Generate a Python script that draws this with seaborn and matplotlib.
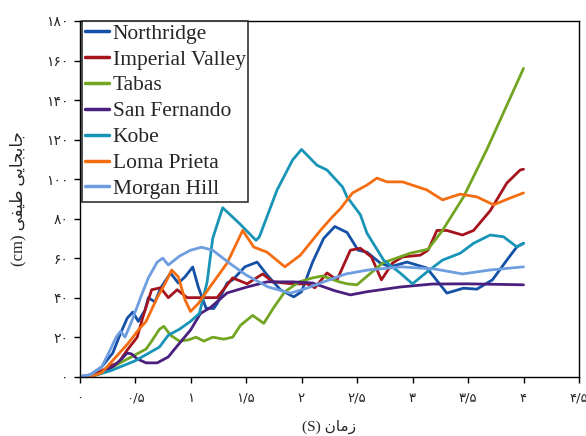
import numpy as np
import pandas as pd
import matplotlib
matplotlib.use("Agg")
import matplotlib.pyplot as plt
import seaborn as sns

# Spectral displacement time histories (time in s, displacement in cm)
northridge_t = [0, 0.1, 0.2, 0.3, 0.37, 0.43, 0.48, 0.53, 0.59, 0.62, 0.68, 0.73, 0.82, 0.89, 0.95,
                1.02, 1.07, 1.14, 1.21, 1.24, 1.33, 1.38, 1.49, 1.6, 1.69, 1.81, 1.93, 2.0, 2.1, 2.2,
                2.3, 2.41, 2.51, 2.59, 2.71, 2.8, 2.95, 3.13, 3.31, 3.46, 3.58, 3.72, 3.85, 3.94, 4.0]
northridge_d = [0, 1, 5, 12, 22, 29.6, 32.7, 28, 33.7, 40, 37.8, 44.8, 52.4, 47.4, 50.5,
                55.5, 45.4, 34.7, 34.5, 37, 47.4, 49, 55.6, 58, 51.5, 44, 40.4, 43, 58, 70,
                76, 73, 64, 63, 57.5, 55.6, 58, 55, 42.3, 44.8, 44.3, 49, 59, 65.7, 67.5]

imperial_t = [0, 0.1, 0.2, 0.3, 0.35, 0.43, 0.52, 0.57, 0.65, 0.73, 0.8, 0.88, 0.97, 1.09, 1.24,
              1.38, 1.51, 1.65, 1.74, 1.92, 2.05, 2.12, 2.23, 2.32, 2.44, 2.53, 2.63, 2.72, 2.82,
              2.91, 3.07, 3.14, 3.22, 3.31, 3.45, 3.55, 3.7, 3.85, 3.97, 4.0]
imperial_d = [0, 0, 3, 6, 7, 13.5, 20, 30, 44, 45, 40, 44, 40, 40, 40,
              50, 47, 52, 48, 47, 47, 45, 52.5, 49, 64, 65, 60.6, 49, 57.5,
              60.6, 61.5, 64, 74, 74, 71.7, 74, 84, 98, 104.6, 105]

tabas_t = [0, 0.1, 0.2, 0.3, 0.4, 0.5, 0.6, 0.65, 0.72, 0.76, 0.82, 0.9, 0.98, 1.05, 1.12, 1.2,
           1.3, 1.38, 1.45, 1.56, 1.66, 1.75, 1.85, 1.98, 2.1, 2.19, 2.34, 2.41, 2.5, 2.73, 2.98,
           3.14, 3.27, 3.46, 3.67, 4.0]
tabas_d = [0, 0, 2, 5, 8, 11, 14, 18, 24, 25.5, 21, 18, 18.6, 20, 18, 20,
           19, 20, 26, 31, 27, 35, 43, 48, 50, 51, 48, 47, 46.5, 57.5, 62.5,
           64.5, 74, 91, 115, 156]

sanfernando_t = [0, 0.1, 0.2, 0.3, 0.38, 0.43, 0.47, 0.52, 0.6, 0.7, 0.8, 0.85, 1.0, 1.09, 1.18,
                 1.33, 1.51, 1.69, 1.92, 2.1, 2.3, 2.44, 2.59, 2.89, 3.18, 3.49, 4.0]
sanfernando_d = [0, 0, 2, 5, 9, 12, 11.5, 9, 7, 7, 10, 13.5, 23.6, 32, 35,
                 42.4, 45.4, 48, 48, 47.4, 43.5, 41.4, 43, 45.4, 46.9, 47, 46.5]

kobe_t = [0, 0.1, 0.28, 0.5, 0.72, 0.8, 0.9, 1.0, 1.08, 1.15, 1.2, 1.29, 1.44, 1.59, 1.62, 1.78,
          1.92, 2.0, 2.14, 2.23, 2.37, 2.41, 2.53, 2.59, 2.74, 2.89, 3.0, 3.13, 3.27, 3.43, 3.55,
          3.7, 3.82, 3.94, 4.0]
kobe_d = [0, 0, 3, 8, 15, 21, 24, 28, 32, 48, 70, 85.5, 77.6, 69, 70.7, 94.5,
          109.7, 115, 107, 104.6, 96, 91, 82, 72.6, 59, 52.4, 47, 53, 59, 62.5, 67.5,
          71.7, 70.8, 65.7, 67.5]

lomaprieta_t = [0, 0.1, 0.2, 0.28, 0.44, 0.53, 0.6, 0.7, 0.77, 0.83, 0.89, 0.95, 1.0, 1.07, 1.17,
                1.33, 1.47, 1.57, 1.69, 1.85, 1.99, 2.17, 2.28, 2.35, 2.46, 2.59, 2.68, 2.77, 2.91,
                3.13, 3.27, 3.43, 3.58, 3.73, 3.88, 4.0]
lomaprieta_d = [0, 0, 2, 7, 17, 23.6, 28, 40, 47, 54, 50.5, 39, 33, 37, 45,
                57.5, 74, 65.6, 63, 55.6, 61.5, 74, 81, 85, 93, 97, 100.5, 98.6, 98.6,
                94.5, 89.5, 92.4, 91, 87, 90.4, 93]

morganhill_t = [0, 0.1, 0.2, 0.28, 0.33, 0.37, 0.41, 0.47, 0.55, 0.62, 0.7, 0.75, 0.8, 0.9, 1.0,
                1.1, 1.2, 1.35, 1.5, 1.7, 1.9, 2.05, 2.2, 2.4, 2.6, 2.9, 3.2, 3.45, 3.7, 4.0]
morganhill_d = [0, 1, 5, 14, 20, 23, 20, 28, 40, 50, 58, 60, 56.5, 61, 64,
                65.5, 64, 57.5, 51.5, 45.4, 42.3, 44.8, 48, 52, 54, 55.6, 54.5, 52, 54, 55.6]

events = ["Northridge", "Imperial Valley", "Tabas", "San Fernando", "Kobe", "Loma Prieta", "Morgan Hill"]
series = [(northridge_t, northridge_d), (imperial_t, imperial_d), (tabas_t, tabas_d),
          (sanfernando_t, sanfernando_d), (kobe_t, kobe_d), (lomaprieta_t, lomaprieta_d),
          (morganhill_t, morganhill_d)]
colors = ["#1350A6", "#A5141C", "#72A622", "#4A1F7E", "#1895B6", "#F46D10", "#6E9DE0"]

x_ticks = [0, 0.5, 1, 1.5, 2, 2.5, 3, 3.5, 4, 4.5]
x_tick_labels = ["۰", "۰/۵", "۱", "۱/۵", "۲", "۲/۵", "۳", "۳/۵", "۴", "۴/۵"]
y_ticks = [0, 20, 40, 60, 80, 100, 120, 140, 160, 180]
y_tick_labels = ["۰", "۲۰", "۴۰", "۶۰", "۸۰", "۱۰۰", "۱۲۰", "۱۴۰", "۱۶۰", "۱۸۰"]

frames = [pd.DataFrame({"t": t, "d": d, "event": name}) for name, (t, d) in zip(events, series)]
df = pd.concat(frames, ignore_index=True)

sns.set_style("white")
plt.rcParams["font.family"] = ["Liberation Serif", "DejaVu Sans"]

fig = plt.figure(figsize=(5.86, 4.36), dpi=100)
ax = fig.add_axes([79.5 / 586, (436 - 376.7) / 436, 499.5 / 586, 355.7 / 436])

sns.lineplot(data=df, x="t", y="d", hue="event", hue_order=events,
             palette=dict(zip(events, colors)), estimator=None, sort=False,
             linewidth=2.0, ax=ax)

ax.set_xlim(0, 4.5)
ax.set_ylim(0, 180)
ax.set_xticks(x_ticks)
ax.set_xticklabels(x_tick_labels, fontsize=9.5, family=["DejaVu Sans"])
ax.set_yticks(y_ticks)
ax.set_yticklabels(y_tick_labels, fontsize=10, family=["DejaVu Sans"])
ax.tick_params(axis="x", direction="out", length=4, width=1, color="black", pad=7, bottom=True)
ax.tick_params(axis="y", direction="out", length=4, width=1, color="black", pad=4, left=True)

for sp in ax.spines.values():
    sp.set_color("black")
    sp.set_linewidth(1.0)
    sp.set_visible(True)

# Axis titles, shaped Persian text in display order
ax.set_xlabel("(S) \uFEE5\uFE8E\uFEE3\uFEAF", fontsize=11)
ax.set_ylabel("(cm) \uFBFD\uFED4\uFBFF\uFEC3 \uFBFD\uFBFE\uFE8E\uFEA0\uFE91\uFE8E\uFE9F", fontsize=12)
ax.xaxis.label.set(va="center", ha="center")
ax.yaxis.label.set(va="center", ha="center", rotation_mode="default")
ax.xaxis.set_label_coords(0.5, -0.142)
ax.yaxis.set_label_coords(-0.122, 0.5)

leg = ax.legend(loc="upper left", bbox_to_anchor=(0.005, 1.0), borderaxespad=0.0,
                fontsize=15.5, frameon=True, fancybox=False, edgecolor="black",
                handlelength=1.15, handletextpad=0.15, labelspacing=0.27,
                borderpad=0.12, title=None)
leg.get_frame().set_linewidth(1.2)
for line in leg.get_lines():
    line.set_linewidth(2.5)

fig.savefig("out.png", dpi=100)
